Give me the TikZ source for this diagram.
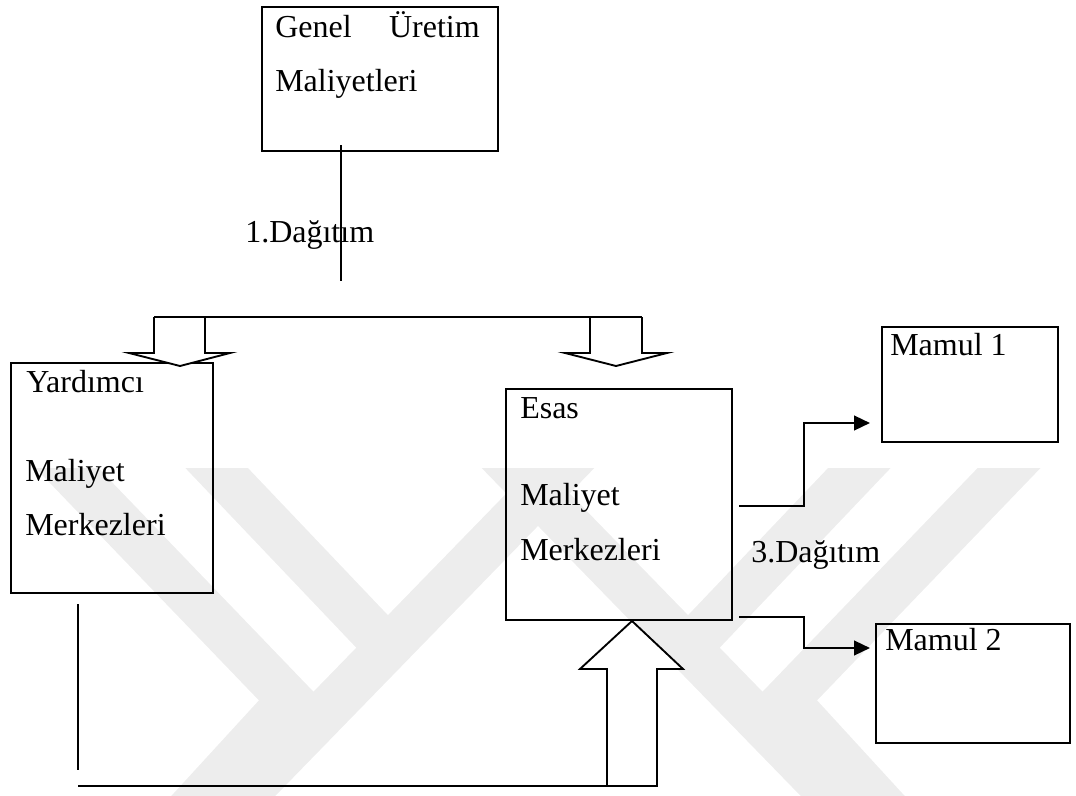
\documentclass[tikz,border=0pt]{standalone}
\usepackage{fontspec}
\setmainfont{Liberation Serif}
\usetikzlibrary{arrows.meta,calc}
\definecolor{wmgray}{RGB}{237,237,237}
\begin{document}
\begin{tikzpicture}[x=0.75pt,y=-0.75pt,
  box/.style={draw,line width=1.5pt,inner sep=0pt,anchor=north west},
  lbl/.style={inner sep=0pt,anchor=base west,font=\fontsize{24}{28}\selectfont},
  hollow/.style={draw,line width=1.4pt,fill=white,line join=miter},
  conn/.style={line width=1.2pt},
  flow/.style={line width=1.8pt,-{Triangle[length=12pt,width=11pt]}},
  wmband/.style={draw=wmgray,line width=34pt,line join=miter}]
\useasboundingbox (0,0) rectangle (1076,796);
% watermark
\begin{scope}
\clip (0,468) rectangle (1076,796);
\draw[wmband] (40,440) -- (290,700) -- (180,820);
\draw[wmband] (190,440) -- (385,645);
\draw[wmband] (590,440) -- (230,810);
\draw[wmband] (1036,440) -- (786,700) -- (896,820);
\draw[wmband] (886,440) -- (691,645);
\draw[wmband] (486,440) -- (846,810);
\end{scope}
% boxes
\node[box,minimum width=177pt,minimum height=108pt] (gum) at (261,6) {};
\node[box,minimum width=151.5pt,minimum height=172.5pt] (yard) at (10,362) {};
\node[box,minimum width=169.5pt,minimum height=173.25pt] (esas) at (505,388) {};
\node[box,minimum width=132pt,minimum height=86.25pt] (m1) at (881,326) {};
\node[box,minimum width=145.5pt,minimum height=89.25pt] (m2) at (875,623) {};
% texts
\node[lbl] (t1) at (275,37) {Genel};
\node[lbl,anchor=base east] (t2) at (480,37) {Üretim};
\node[lbl] (t3) at (275,91) {Maliyetleri};
\node[lbl] (t4) at (26,392) {Yardımcı};
\node[lbl] (t5) at (25,481) {Maliyet};
\node[lbl] (t6) at (25,535) {Merkezleri};
\node[lbl] (t7) at (520,418) {Esas};
\node[lbl] (t8) at (520,505) {Maliyet};
\node[lbl] (t9) at (520,560) {Merkezleri};
\node[lbl] (t10) at (890,355) {Mamul 1};
\node[lbl] (t11) at (885,650) {Mamul 2};
\node[lbl] (d1) at (245,242) {1.Dağıtım};
\node[lbl] (d3) at (751,562) {3.Dağıtım};
% 1. distribution
\coordinate (d1end) at (341,281);
\draw[conn] (gum.south -| d1end) ++(0,-7) -- (d1end);
\draw[hollow] (154,317) -- (154,353) -- (129,353) -- (180,366) -- (230,353) -- (205,353) -- (205,317);
\draw[hollow] (590,317) -- (590,353) -- (565,353) -- (616,366) -- (667,353) -- (642,353) -- (642,317);
\draw[line width=1.4pt] (154,317) -- (642,317);
% 2. return from auxiliary centres
\coordinate (ybot) at (78,770);
\coordinate (bl) at (78,786);
\coordinate (ua) at (632,786);
\draw[conn] (yard.south -| ybot) ++(0,10) -- (ybot);
\draw[conn] (bl) -- ($(ua)+(-25,0)$);
\draw[hollow] ($(ua)+(-25,0)$) -- ++(0,-117) -- ++(-27,0) -- (esas.south -| ua) -- ($(ua)+(51,-117)$) -- ($(ua)+(25,-117)$) -- ($(ua)+(25,0)$) -- cycle;
% 3. distribution
\coordinate (s1) at (739,506);
\coordinate (k1) at (804,506);
\coordinate (e1) at (870,423);
\coordinate (s2) at (739,617);
\coordinate (k2) at (804,617);
\coordinate (e2) at (870,648);
\draw[flow] (s1) -- (k1) |- (e1);
\draw[flow] (s2) -- (k2) |- (e2);
\end{tikzpicture}
\end{document}
